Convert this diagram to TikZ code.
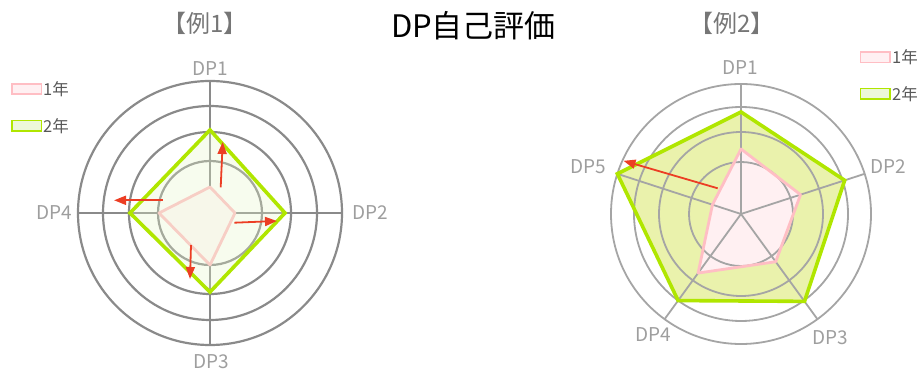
\documentclass[tikz,border=0pt]{standalone}
\usepackage{fontspec}
\newfontfamily\jpfont{Noto Sans CJK JP}
\usepackage{tikz}
\usetikzlibrary{arrows.meta}
\definecolor{gridgray}{RGB}{138,138,138}
\definecolor{gridlight}{RGB}{165,165,165}
\definecolor{limeline}{RGB}{176,230,0}
\definecolor{limefill}{RGB}{234,242,172}
\definecolor{limepale}{RGB}{230,245,200}
\definecolor{pinkline}{RGB}{255,190,196}
\definecolor{pinkfill}{RGB}{255,240,242}
\definecolor{arrowred}{RGB}{236,62,36}
\definecolor{labelgray}{RGB}{158,158,158}
\definecolor{titlegray}{RGB}{118,118,118}
\definecolor{legendgray}{RGB}{88,88,88}
\tikzset{
	gridone/.style={draw=gridgray, line width=2.2pt},
	gridtwo/.style={draw=gridlight, line width=1.8pt}
}
\tikzset{
	greenpoly/.style={draw=limeline, line width=3.6pt, line join=miter},
	pinkpoly/.style={draw=pinkline, line width=2.8pt, line join=round},
	redarrow/.style={draw=arrowred, line width=1.8pt, -{Triangle[length=12pt,width=9pt]}}
}
\tikzset{
	dplabel/.style={text=labelgray, font=\jpfont\fontsize{19}{19}\selectfont, inner sep=0pt},
	exlabel/.style={text=titlegray, font=\jpfont\fontsize{24}{24}\selectfont, inner sep=0pt},
	legendtext/.style={text=legendgray, font=\jpfont\fontsize{16.5}{16.5}\selectfont, inner sep=0pt, anchor=west}
}

\begin{document}
\begin{tikzpicture}[x=1pt,y=1pt]
			\useasboundingbox (0,0) rectangle (918,372);
			% titles
			\node[text=black, font=\jpfont\fontsize{31}{31}\selectfont, inner sep=0pt] (maintitle) at (473.5,346) {DP自己評価};
			\node[exlabel] (exone) at (205,349) {【例1】};
			\node[exlabel] (extwo) at (732,349) {【例2】};
			% left legend
			\draw[draw=pinkline, fill=pinkfill, line width=1.8pt] (12,278) rectangle (41.5,288);
			\node[legendtext] (leftyearone) at (43,283) {1年};
			\draw[draw=limeline, fill=limepale!70, line width=1.8pt] (12,241) rectangle (41.5,251.5);
			\node[legendtext] (leftyeartwo) at (43,246) {2年};
			% right legend
			\draw[draw=pinkline, fill=pinkfill, line width=1.8pt] (860.5,309.5) rectangle (890,320);
			\node[legendtext] (rightyearone) at (892,315) {1年};
			\draw[draw=limeline, fill=limepale!70, line width=1.8pt] (860.5,273) rectangle (890,283.5);
			\node[legendtext] (rightyeartwo) at (892,278) {2年};

			% example 1
			\coordinate (lc) at (210,159);
			\draw[gridone] (lc) circle (52pt);
			\draw[gridone] (lc) circle (81pt);
			\draw[gridone] (lc) circle (107pt);
			\draw[gridone] (lc) circle (132pt);
			\draw[gridone] (78,159) -- (342,159);
			\draw[gridone] (210,27) -- (210,291);
			\coordinate (lpone) at (210,185);
			\coordinate (lptwo) at (235,159);
			\coordinate (lpthree) at (210,107);
			\coordinate (lpfour) at (159,159);
			\fill[pinkfill!50] (lpone) -- (lptwo) -- (lpthree) -- (lpfour) -- cycle;
			\draw[pinkpoly] (lpone) -- (lptwo) -- (lpthree) -- (lpfour) -- cycle;
			\coordinate (lgone) at (210,242);
			\coordinate (lgtwo) at (285,159);
			\coordinate (lgthree) at (210,80);
			\coordinate (lgfour) at (130,159);
			\fill[limepale, fill opacity=0.3] (lgone) -- (lgtwo) -- (lgthree) -- (lgfour) -- cycle;
			\draw[greenpoly] (lgone) -- (lgtwo) -- (lgthree) -- (lgfour) -- cycle;
			\coordinate (laonestart) at (220.7,184.7);
			\coordinate (laoneend) at (222.7,230);
			\coordinate (latwostart) at (234.3,149.3);
			\coordinate (latwoend) at (277,151);
			\coordinate (lathreestart) at (191,127);
			\coordinate (lathreeend) at (190,93);
			\coordinate (lafourstart) at (162.7,171.7);
			\coordinate (lafourend) at (114,171.7);
			\draw[redarrow] (laonestart) -- (laoneend);
			\draw[redarrow] (latwostart) -- (latwoend);
			\draw[redarrow] (lathreestart) -- (lathreeend);
			\draw[redarrow] (lafourstart) -- (lafourend);
			\node[dplabel] (ldpone) at (210,303) {DP1};
			\node[dplabel] (ldptwo) at (370,159) {DP2};
			\node[dplabel] (ldpthree) at (211,10) {DP3};
			\node[dplabel] (ldpfour) at (54,159) {DP4};

			% example 2
			\begin{scope}[shift={(741,158)}]
			\coordinate (rc) at (0,0);
			\coordinate (rgone) at (90:102);
			\coordinate (rgtwo) at (18:109);
			\coordinate (rgthree) at (-54:108);
			\coordinate (rgfour) at (-126:107);
			\coordinate (rgfive) at (162:130);
			\coordinate (rpone) at (90:65);
			\coordinate (rptwo) at (18:62.6);
			\coordinate (rpthree) at (-54:59);
			\coordinate (rpfour) at (-126:73);
			\coordinate (rpfive) at (162:30);
			\fill[limefill] (rgone) -- (rgtwo) -- (rgthree) -- (rgfour) -- (rgfive) -- cycle;
			\fill[pinkfill] (rpone) -- (rptwo) -- (rpthree) -- (rpfour) -- (rpfive) -- cycle;
			\draw[gridtwo] (rc) circle (52pt);
			\draw[gridtwo] (rc) circle (82pt);
			\draw[gridtwo] (rc) circle (107pt);
			\draw[gridtwo] (rc) circle (130pt);
			\draw[gridtwo] (rc) -- (90:130);
			\draw[gridtwo] (rc) -- (18:130);
			\draw[gridtwo] (rc) -- (-54:130);
			\draw[gridtwo] (rc) -- (-126:130);
			\draw[gridtwo] (rc) -- (162:130);
			\draw[pinkpoly] (rpone) -- (rptwo) -- (rpthree) -- (rpfour) -- (rpfive) -- cycle;
			\draw[greenpoly] (rgone) -- (rgtwo) -- (rgthree) -- (rgfour) -- (rgfive) -- cycle;
			\end{scope}
			\coordinate (rastart) at (717.7,183.7);
			\coordinate (raend) at (623.5,211.2);
			\draw[redarrow] (rastart) -- (raend);
			\node[dplabel] (rdpone) at (740,304) {DP1};
			\node[dplabel] (rdptwo) at (888,205) {DP2};
			\node[dplabel] (rdpthree) at (830,34) {DP3};
			\node[dplabel] (rdpfour) at (653,37) {DP4};
			\node[dplabel] (rdpfive) at (588,205) {DP5};
		\end{tikzpicture}
\end{document}
